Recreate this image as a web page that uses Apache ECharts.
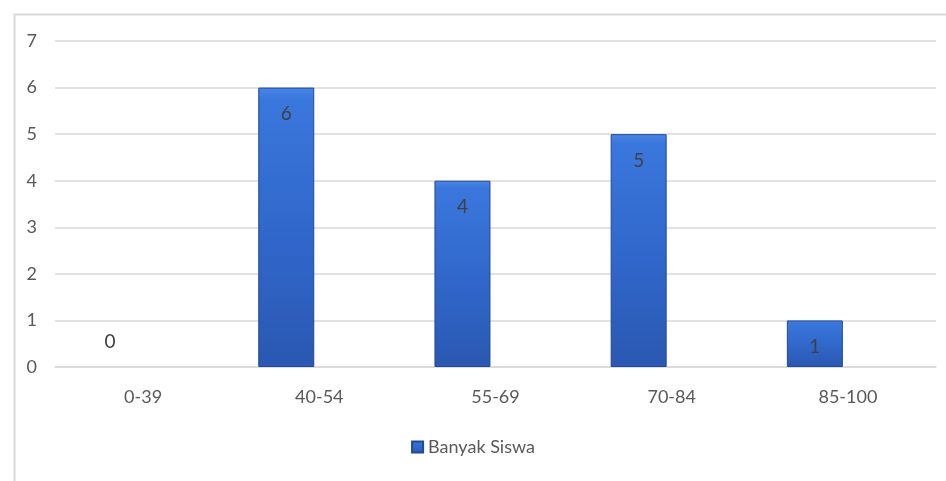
<!DOCTYPE html>
<html>
<head>
<meta charset="utf-8">
<script src="https://cdn.jsdelivr.net/npm/echarts@6/dist/echarts.min.js"></script>
<style>
  html, body { margin: 0; padding: 0; background: #ffffff; }
  #chart { width: 946px; height: 481px; }
</style>
</head>
<body>
<div id="chart"></div>
<script>
// Score ranges and number of students in each range
const categories = ['0-39', '40-54', '55-69', '70-84', '85-100'];
const banyakSiswa = [0, 6, 4, 5, 1];
const yTicks = [0, 1, 2, 3, 4, 5, 6, 7];

const FONT = 'Lato, "Open Sans", sans-serif';
const TEXT = '#595959';
const GRID = '#d9d9d9';

// Zero-height bars carry their label above the baseline and draw no outline
const barData = banyakSiswa.map(v => v === 0
  ? { value: v, label: { position: 'top', distance: 16 }, itemStyle: { borderWidth: 0 } }
  : v);

// Bevelled blue fill: bright top edge fading to a deeper blue at the base
const barFill = new echarts.graphic.LinearGradient(0, 0, 0, 1, [
  { offset: 0, color: '#4a86e8' },
  { offset: 0.04, color: '#3a77dc' },
  { offset: 0.5, color: '#3168cc' },
  { offset: 1, color: '#2a58b2' }
]);

const chart = echarts.init(document.getElementById('chart'), null, { renderer: 'canvas' });

chart.setOption({
  backgroundColor: '#ffffff',
  animation: false,
  graphic: [{
    type: 'rect',
    left: 12, top: 12,
    shape: { width: 960, height: 500 },
    style: { fill: 'none', stroke: GRID, lineWidth: 2 },
    silent: true
  }],
  grid: { left: 55, right: 10, top: 41, bottom: 114, containLabel: false },
  legend: {
    data: ['Banyak Siswa'],
    bottom: 20,
    left: 'center',
    itemWidth: 11,
    itemHeight: 11,
    itemGap: 10,
    icon: 'rect',
    textStyle: { color: TEXT, fontSize: 18, fontFamily: FONT, padding: [0, 0, 0, 0] }
  },
  xAxis: {
    type: 'category',
    data: categories,
    axisLine: { show: true, lineStyle: { color: GRID, width: 1.5 } },
    axisTick: { show: false },
    axisLabel: { color: TEXT, fontSize: 18, fontFamily: FONT, margin: 21 }
  },
  yAxis: {
    type: 'value',
    min: yTicks[0],
    max: yTicks[yTicks.length - 1],
    interval: 1,
    axisLine: { show: false },
    axisTick: { show: false },
    splitLine: { lineStyle: { color: GRID, width: 1.5 } },
    axisLabel: { color: TEXT, fontSize: 18, fontFamily: FONT, margin: 18 }
  },
  series: [
    {
      name: 'Banyak Siswa',
      type: 'bar',
      data: barData,
      barWidth: 56,
      barGap: '18%',
      itemStyle: {
        color: barFill,
        borderColor: '#1f4a94',
        borderWidth: 1
      },
      label: {
        show: true,
        position: 'insideTop',
        distance: 17,
        color: '#404040',
        fontSize: 19,
        fontFamily: FONT
      }
    },
    {
      name: 'kosong',
      type: 'bar',
      data: categories.map(() => null),
      barWidth: 56
    }
  ]
});
</script>
</body>
</html>
